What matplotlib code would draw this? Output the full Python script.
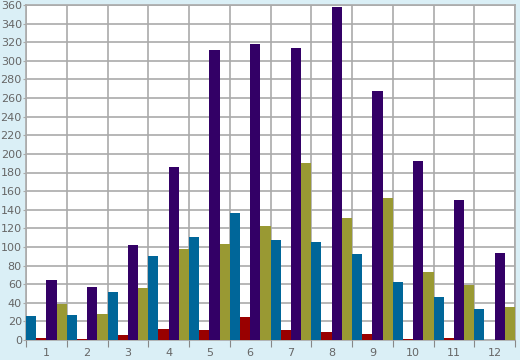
import numpy as np
import matplotlib
matplotlib.use('AGG')
import matplotlib.pyplot as plt

# data
months = ['1', '2', '3', '4', '5', '6', '7', '8', '9', '10', '11', '12']
blue_vals = [26, 27, 52, 90, 111, 137, 108, 105, 92, 62, 46, 33]
red_vals = [2.5, 1, 5, 12, 11, 25, 11, 9, 6.5, 1, 2, 0.5]
purple_vals = [65, 57, 102, 186, 312, 318, 314, 358, 268, 192, 150, 93]
olive_vals = [39, 28, 56, 98, 103, 123, 190, 131, 153, 73, 59, 35]

series = [blue_vals, red_vals, purple_vals, olive_vals]
colors = ['#006699', '#990000', '#330066', '#999933']

bg = '#daeff6'
W, H = 520, 360
fig = plt.figure(figsize=(W / 100, H / 100), dpi=100, facecolor=bg)
ax = fig.add_axes([26 / W, 20 / H, 489 / W, 335 / H])
ax.set_facecolor('white')

x = np.arange(len(months))
bw = 0.25
for k, (vals, c) in enumerate(zip(series, colors)):
    ax.bar(x + k * bw, vals, width=bw, align='edge', color=c, zorder=3, linewidth=0)

ax.set_xlim(0, len(months))
ax.set_ylim(0, 360)
ax.set_yticks(np.arange(0, 361, 20))
ax.set_xticks(np.arange(0, len(months) + 1))
ax.set_xticklabels([])
ax.set_xticks(x + 0.5, minor=True)
ax.set_xticklabels(months, minor=True)

ax.grid(True, which='major', color='#aaaaaa', linewidth=1.2, zorder=0)
for s in ax.spines.values():
    s.set_color('#aaaaaa')
    s.set_linewidth(1.2)
    s.set_zorder(0)

ax.tick_params(axis='y', length=2, color='#aaaaaa', labelsize=8, labelcolor='#666666', pad=1)
ax.tick_params(axis='x', which='major', length=5, color='#888888', labelsize=8)
ax.tick_params(axis='x', which='minor', length=0, labelsize=8, labelcolor='#666666', pad=6)

fig.savefig('out.png', dpi=100, facecolor=bg)
